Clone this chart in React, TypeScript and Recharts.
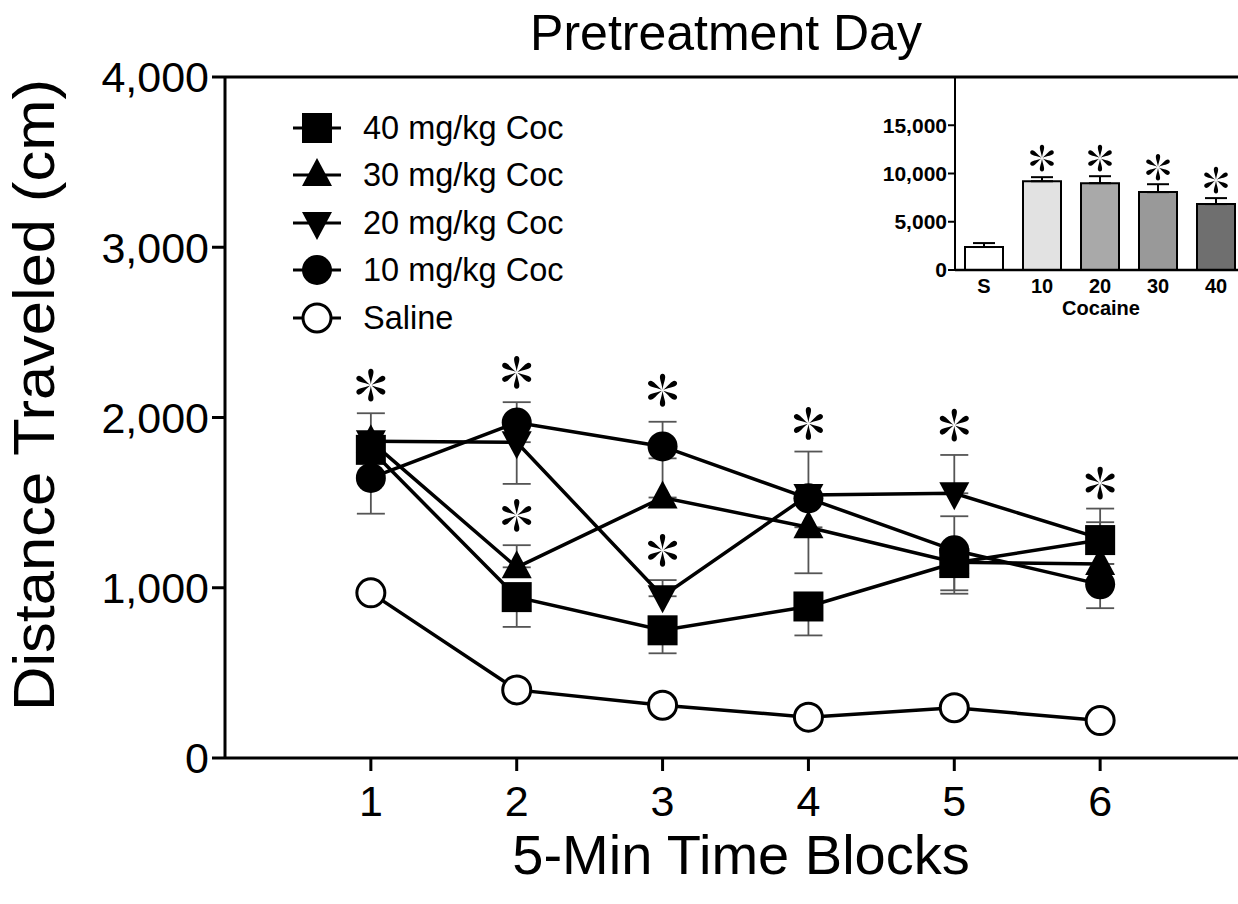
import { ComposedChart, Line, Bar, Cell, Scatter, XAxis, YAxis, ErrorBar, ReferenceLine } from "recharts";

// main panel: distance per 5-min block
const blocks = [1, 2, 3, 4, 5, 6];
const coc40 = [1810, 945, 750, 890, 1145, 1280];
const coc40Lo = [0, 175, 135, 170, 160, 0];
const coc40Hi = [0, 0, 0, 0, 0, 105];
const coc30 = [1860, 1120, 1530, 1355, 1150, 1140];
const coc30Lo = [0, 0, 0, 270, 185, 0];
const coc30Hi = [0, 130, 230, 0, 0, 0];
const coc20 = [1860, 1855, 950, 1545, 1555, 1290];
const coc20Lo = [0, 245, 0, 0, 0, 0];
const coc20Hi = [165, 0, 95, 255, 225, 175];
const coc10 = [1645, 1970, 1830, 1525, 1220, 1020];
const coc10Lo = [210, 0, 0, 0, 0, 140];
const coc10Hi = [0, 120, 145, 0, 200, 0];
const saline = [970, 400, 310, 240, 295, 220];

const starBlocks = [1, 2, 2, 3, 3, 4, 5, 6];
const starValues = [2190, 2265, 1425, 2160, 1220, 1965, 1955, 1615];

const yTicks = [0, 1000, 2000, 3000, 4000];

const legendLabels = ["40 mg/kg Coc", "30 mg/kg Coc", "20 mg/kg Coc", "10 mg/kg Coc", "Saline"];
const legendKinds = ["square", "up", "down", "circle", "open"];

// inset: total distance
const doses = ["S", "10", "20", "30", "40"];
const totals = [2380, 9200, 9000, 8070, 6830];
const totalsErr = [410, 420, 720, 820, 620];
const totalsStar = [null, 11600, 11600, 10650, 9310];
const barFills = ["#ffffff", "#e2e2e2", "#a9a9a9", "#999999", "#6f6f6f"];
const insetTicks = [0, 5000, 10000, 15000];

const rows = blocks.map((block, i) => ({
  block,
  c40: coc40[i],
  c40e: [coc40Lo[i], coc40Hi[i]],
  c30: coc30[i],
  c30e: [coc30Lo[i], coc30Hi[i]],
  c20: coc20[i],
  c20e: [coc20Lo[i], coc20Hi[i]],
  c10: coc10[i],
  c10e: [coc10Lo[i], coc10Hi[i]],
  sal: saline[i],
}));

const stars = starBlocks.map((block, i) => ({ block, v: starValues[i] }));

const insetRows = doses.map((dose, i) => ({
  dose,
  total: totals[i],
  err: [0, totalsErr[i]],
  star: totalsStar[i],
}));

const fmt = (v: number) => v.toLocaleString("en-US");

function Marker({ kind, cx, cy }: { kind: string; cx: number; cy: number }) {
  if (kind === "square") return <rect x={cx - 15} y={cy - 15} width={30} height={30} fill="#000" />;
  if (kind === "circle") return <circle cx={cx} cy={cy} r={15} fill="#000" />;
  if (kind === "open") return <circle cx={cx} cy={cy} r={14} fill="#fff" stroke="#000" strokeWidth={3} />;
  if (kind === "up")
    return <polygon points={`${cx},${cy - 17} ${cx - 15},${cy + 11} ${cx + 15},${cy + 11}`} fill="#000" />;
  return <polygon points={`${cx},${cy + 17} ${cx - 15},${cy - 11} ${cx + 15},${cy - 11}`} fill="#000" />;
}

// six teardrop petals, thin at the centre
function Asterisk({ cx, cy, size }: { cx: number; cy: number; size: number }) {
  const l = size / 2;
  const w = size * 0.115;
  const petal = `M0,${-l * 0.05} C${-w * 0.3},${-l * 0.5} ${-w},${-l * 0.75} ${-w * 0.6},${-l * 0.95} C${-w * 0.3},${-l * 1.05} ${w * 0.3},${-l * 1.05} ${w * 0.6},${-l * 0.95} C${w},${-l * 0.75} ${w * 0.3},${-l * 0.5} 0,${-l * 0.05} Z`;
  return (
    <g transform={`translate(${cx},${cy})`}>
      {[0, 60, 120, 180, 240, 300].map((a) => (
        <path key={a} d={petal} transform={`rotate(${a})`} fill="#000" />
      ))}
    </g>
  );
}

const dotFor = (kind: string) => (p: any) => <Marker key={`${kind}-${p.index}`} kind={kind} cx={p.cx} cy={p.cy} />;

const errStyle = { stroke: "#555", strokeWidth: 1.8 };

export default function App() {
  return (
    <div
      style={{
        position: "absolute",
        left: 0,
        top: 0,
        width: 1238,
        height: 904,
        overflow: "hidden",
        background: "#fff",
        fontFamily: "'Liberation Sans', Arial, sans-serif",
      }}
    >
      <ComposedChart width={1250} height={904} data={rows} margin={{ top: 77, right: 4, bottom: 86, left: 0 }}>
        <XAxis
          dataKey="block"
          type="number"
          domain={[0, 7]}
          ticks={blocks}
          allowDataOverflow
          axisLine={{ stroke: "#000", strokeWidth: 3 }}
          tickLine={{ stroke: "#000", strokeWidth: 3 }}
          tickSize={13}
          tickMargin={14}
          tick={{ fontSize: 43, fill: "#000" }}
          height={60}
        />
        <YAxis
          type="number"
          domain={[0, 4000]}
          ticks={yTicks}
          width={225}
          axisLine={{ stroke: "#000", strokeWidth: 3 }}
          tickLine={{ stroke: "#000", strokeWidth: 3 }}
          tickSize={13}
          tickMargin={3}
          tick={{ fontSize: 43, fill: "#000" }}
          tickFormatter={fmt}
        />
        <ReferenceLine y={4000} stroke="#000" strokeWidth={3} />
        <Line dataKey="sal" stroke="#000" strokeWidth={3.5} dot={dotFor("open")} activeDot={false} isAnimationActive={false} />
        <Line dataKey="c30" stroke="#000" strokeWidth={3.5} dot={dotFor("up")} activeDot={false} isAnimationActive={false}>
          <ErrorBar dataKey="c30e" direction="y" width={14} {...errStyle} />
        </Line>
        <Line dataKey="c20" stroke="#000" strokeWidth={3.5} dot={dotFor("down")} activeDot={false} isAnimationActive={false}>
          <ErrorBar dataKey="c20e" direction="y" width={14} {...errStyle} />
        </Line>
        <Line dataKey="c10" stroke="#000" strokeWidth={3.5} dot={dotFor("circle")} activeDot={false} isAnimationActive={false}>
          <ErrorBar dataKey="c10e" direction="y" width={14} {...errStyle} />
        </Line>
        <Line dataKey="c40" stroke="#000" strokeWidth={3.5} dot={dotFor("square")} activeDot={false} isAnimationActive={false}>
          <ErrorBar dataKey="c40e" direction="y" width={14} {...errStyle} />
        </Line>
        <Scatter
          data={stars}
          dataKey="v"
          isAnimationActive={false}
          shape={(p: any) => <Asterisk cx={p.cx} cy={p.cy} size={32} />}
        />
      </ComposedChart>

      <div style={{ position: "absolute", left: 875, top: 67 }}>
        <ComposedChart width={370} height={253} data={insetRows} margin={{ top: 10, right: 0, bottom: 0, left: 0 }}>
          <XAxis
            dataKey="dose"
            axisLine={{ stroke: "#000", strokeWidth: 2.5 }}
            tickLine={false}
            tickSize={0}
            tickMargin={9}
            tick={{ fontSize: 20, fontWeight: "bold", fill: "#000" }}
            height={50}
          />
          <YAxis
            type="number"
            domain={[0, 20000]}
            ticks={insetTicks}
            width={80}
            axisLine={{ stroke: "#000", strokeWidth: 2 }}
            tickLine={{ stroke: "#000", strokeWidth: 2 }}
            tickSize={7}
            tickMargin={1}
            tick={{ fontSize: 21, fontWeight: "bold", fill: "#000" }}
            tickFormatter={fmt}
          />
          <Bar dataKey="total" barSize={38} stroke="#000" strokeWidth={2} isAnimationActive={false}>
            {insetRows.map((r, i) => (
              <Cell key={r.dose} fill={barFills[i]} />
            ))}
            <ErrorBar dataKey="err" direction="y" width={11} stroke="#000" strokeWidth={2} />
          </Bar>
          <Line
            dataKey="star"
            stroke="none"
            activeDot={false}
            isAnimationActive={false}
            dot={(p: any) =>
              p.value == null ? <g key={`s-${p.index}`} /> : <Asterisk key={`s-${p.index}`} cx={p.cx} cy={p.cy} size={26} />
            }
          />
        </ComposedChart>
      </div>

      <svg width={1238} height={904} style={{ position: "absolute", left: 0, top: 0, pointerEvents: "none" }}>
        <text x={726} y={50} textAnchor="middle" fontSize={50} fill="#000">
          Pretreatment Day
        </text>
        <text
          transform="translate(54,395) rotate(-90)"
          textAnchor="middle"
          fontSize={58}
          fill="#000"
          textLength={632}
          lengthAdjust="spacingAndGlyphs"
        >
          Distance Traveled (cm)
        </text>
        <text x={741} y={874} textAnchor="middle" fontSize={56} fill="#000">
          5-Min Time Blocks
        </text>
        <text x={1101} y={315} textAnchor="middle" fontSize={20} fontWeight="bold" fill="#000">
          Cocaine
        </text>
      </svg>

      <div style={{ position: "absolute", left: 290, top: 104 }}>
        {legendLabels.map((label, i) => (
          <div key={label} style={{ display: "flex", alignItems: "center", height: 47.5 }}>
            <svg width={73} height={40}>
              <line x1={3} x2={51} y1={20} y2={20} stroke="#000" strokeWidth={3} />
              <Marker kind={legendKinds[i]} cx={27} cy={20} />
            </svg>
            <span style={{ fontSize: 32.5, color: "#000", lineHeight: 1 }}>{label}</span>
          </div>
        ))}
      </div>
    </div>
  );
}
